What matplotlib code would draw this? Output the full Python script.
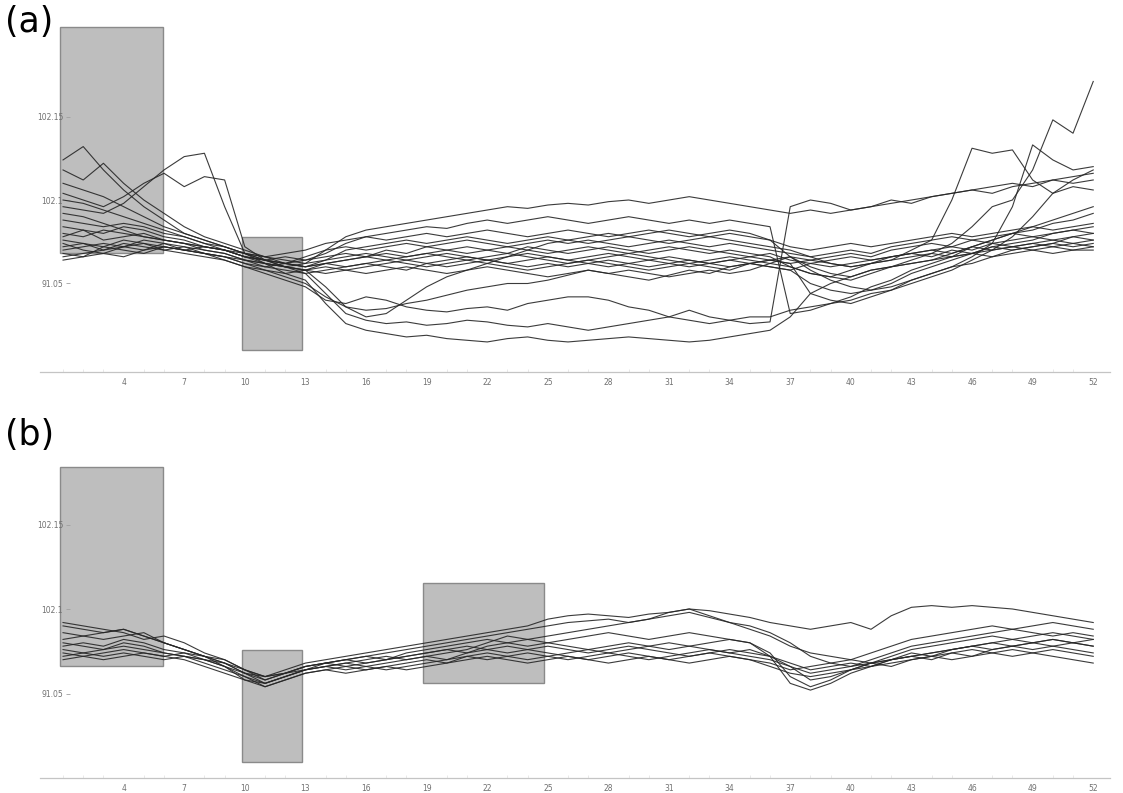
import numpy as np
import matplotlib
matplotlib.use("Agg")
import matplotlib.pyplot as plt
from matplotlib.patches import Rectangle

# ---------------- data ----------------
weeks = list(range(1, 53))
xtick_vals = list(range(4, 53, 3))
ytick_vals = [102.15, 102.1, 102.05]
ytick_labels = ["102.15", "102.1", "91.05"]
BASE = 102.0  # series below are in thousandths above BASE

# panel (a) series
a_A01 = [124,132,118,106,96,88,80,76,72,68,64,66,64, 66,68,66,70,68,72,70,72,70,68,72,70,68, 70,72,70,68,70,72,70,68,66,64,62,64,66, 68,66,70,72,74,72,76,74,76,78,76,78,76]
a_A02 = [118,112,122,110,100,92,84,78,74,70,66,62,60, 62,64,66,64,66,68,66,64,66,68,66,64,62, 64,66,68,66,64,62,64,66,64,62,60,56,54, 58,62,66,68,70,72,70,74,72,74,76,74,72]
a_U1  = [96,94,92,98,108,118,126,128,96,68,62,56,52, 38,26,22,20,18,19,17,16,15,17,18,16,15, 16,17,18,17,16,15,16,18,20,22,30,44,50, 54,58,60,62,64,68,72,76,80,84,88,92,96]
a_U2  = [104,100,96,102,110,116,108,114,112,72,64,60,56, 44,32,28,26,27,25,26,28,27,25,24,26,24, 22,24,26,28,30,34,30,28,26,27,96,100,98, 94,96,100,98,102,104,106,108,110,108,112,114,116]
a_L3  = [80,78,82,80,78,76,74,72,70,66,62,60,58, 48,36,30,32,40,48,54,58,62,66,70,74,76, 78,80,78,80,82,80,78,80,78,76,66,58,52, 48,46,50,56,60,64,68,72,74,76,80,82,84]
a_L4  = [76,74,72,76,74,72,70,68,66,62,58,54,50, 42,36,34,35,38,40,43,46,48,50,50,52,55, 58,56,54,52,55,58,56,60,62,64,62,44,40, 38,42,46,52,56,60,62,66,70,72,74,78,80]
a_L5  = [72,74,70,72,74,70,68,66,64,60,56,52,48, 40,38,42,40,36,34,33,35,36,34,38,40,42, 42,40,36,34,30,28,26,28,30,30,34,36,38, 40,44,46,50,54,58,64,70,78,90,104,112,118]
a_UP1 = [88,86,84,86,84,80,78,74,72,68,66,64,62, 70,78,82,84,86,88,90,92,94,96,95,97,98, 97,99,100,98,100,102,100,98,96,94,92,94,92, 94,96,98,100,102,104,106,104,108,110,112,110,112]
a_UP2 = [84,82,80,84,82,78,76,72,70,66,64,62,64, 68,74,78,80,82,84,83,86,88,86,88,90,88, 86,88,90,88,86,88,86,88,86,84,32,34,38, 42,48,52,58,62,66,72,76,80,82,86,88,92]
a_B1  = [70,72,74,72,76,74,72,70,68,64,62,60,62, 64,66,68,66,64,66,68,66,64,62,64,66,64, 62,60,62,64,62,60,62,64,66,68,64,62,60, 62,64,66,68,66,70,68,72,70,72,74,72,74]
a_B2  = [66,68,70,74,72,70,72,68,66,62,60,62,60, 62,60,62,64,62,60,62,64,62,60,58,60,62, 64,62,60,58,60,62,60,58,62,64,66,64,62, 60,62,64,66,68,66,68,70,72,70,68,70,72]
a_B3  = [74,70,68,72,70,74,70,72,70,66,64,62,66, 70,72,70,72,74,72,74,76,74,72,74,76,74, 76,74,72,74,76,74,72,74,72,70,68,66,68, 70,68,72,74,76,78,76,78,80,78,80,82,80]
a_B4  = [68,66,72,70,68,72,70,68,64,60,58,56,58, 60,58,56,58,60,58,56,58,60,58,56,54,56, 58,56,58,56,54,56,58,56,58,62,66,60,56, 54,58,60,62,64,66,68,66,68,70,72,70,70]
a_B5  = [78,82,76,78,80,76,74,72,70,68,66,68,70, 74,76,78,76,78,80,78,80,82,80,78,80,82, 80,78,80,82,80,78,80,82,80,76,72,70,72, 74,72,74,76,78,80,78,80,82,84,82,84,86]
a_B6  = [64,66,68,66,70,72,70,68,66,64,60,58,56, 58,60,62,60,58,62,60,62,64,62,60,62,60, 62,64,62,60,62,64,62,60,62,60,58,62,64, 66,64,66,68,70,68,72,70,72,74,72,74,76]
a_E1  = [92,90,86,82,78,76,74,70,68,64,62,60,58, 62,64,66,68,66,68,70,68,70,72,70,68,70, 72,70,68,70,72,70,68,70,68,66,60,56,54, 52,56,60,64,68,74,84,96,100,118,148,140,171]
a_E2  = [100,98,94,90,86,82,78,74,70,66,64,62,60, 64,70,72,74,76,74,76,78,76,74,76,78,76, 74,76,78,76,74,76,78,76,74,72,70,66,62, 60,62,64,70,76,100,131,128,130,112,104,108,106]
a_E3  = [110,106,102,96,90,84,80,76,72,68,64,60,58, 56,58,60,62,64,62,64,66,64,66,68,66,64, 66,68,66,64,66,64,62,64,62,60,58,50,46, 44,46,48,52,56,60,66,74,96,133,124,118,120]

# panel (b) series
b_P1 = [90,88,86,88,84,80,76,72,68,62,60,64,68, 70,72,74,76,78,80,82,84,86,88,90,94,96, 97,96,95,97,98,100,99,97,95,92,90,88,90, 92,88,96,101,102,101,102,101,100,98,96,94,92]
b_P2 = [92,90,88,86,82,84,80,74,70,64,58,62,66, 68,70,72,74,76,78,80,82,84,86,88,90,92, 93,94,92,94,96,98,95,92,88,84,78,74,72, 70,74,78,82,84,86,88,90,88,90,92,90,88]
b_P3 = [82,84,86,88,84,80,76,72,68,62,56,60,64, 66,64,66,68,70,72,74,76,80,84,82,80,82, 84,86,84,82,84,86,84,82,80,74,60,54,58, 64,68,72,76,78,80,82,84,82,84,86,84,82]
b_P4 = [78,80,78,82,80,76,74,72,66,58,54,58,62, 64,66,64,66,68,70,68,72,74,72,70,72,74, 76,78,80,78,76,78,80,82,80,72,56,52,56, 62,66,70,72,74,76,78,76,78,80,82,80,78]
b_P5 = [76,74,76,78,76,74,72,70,66,60,56,60,64, 66,68,66,64,66,68,70,72,70,72,74,72,70, 72,74,72,70,72,74,76,74,72,70,66,62,64, 66,68,70,72,70,74,76,74,72,74,76,74,72]
b_P6 = [74,72,74,76,74,72,74,70,66,62,58,62,66, 68,70,68,70,72,74,76,78,76,74,76,78,76, 74,76,78,76,74,72,74,76,74,72,68,64,66, 68,66,70,74,72,76,78,80,78,80,78,80,82]
b_P7 = [72,74,72,74,72,70,72,68,64,60,54,58,62, 64,62,64,66,64,66,68,70,72,70,68,70,72, 70,68,70,72,70,68,70,72,70,66,62,60,62, 64,66,68,70,72,70,72,74,76,74,72,70,68]
b_P8 = [86,84,82,84,86,80,76,72,70,64,60,62,64, 68,70,72,70,74,76,78,80,82,80,82,84,86, 88,90,92,94,98,100,96,92,90,86,80,72,68, 66,70,74,78,80,82,84,86,88,86,84,86,84]
b_P9 = [70,72,70,72,74,72,70,66,62,58,56,60,64, 66,68,70,72,70,72,70,74,76,78,76,74,72, 70,72,74,72,70,72,74,72,70,68,64,66,68, 70,68,66,70,72,74,72,76,78,76,78,76,74]
b_P10 = [80,78,76,80,78,74,72,70,68,64,60,62,66, 68,66,68,70,72,74,76,74,78,80,78,80,78, 76,74,76,78,80,78,76,74,76,72,66,58,60, 64,68,70,72,74,76,78,80,82,80,82,80,78]

series_a = [a_A01, a_A02, a_U1, a_U2, a_L3, a_L4, a_L5, a_UP1, a_UP2,
            a_B1, a_B2, a_B3, a_B4, a_B5, a_B6, a_E1, a_E2, a_E3]
series_b = [b_P1, b_P2, b_P3, b_P4, b_P5, b_P6, b_P7, b_P8, b_P9, b_P10]

# highlighted windows: (x_start, x_end, y_low, y_high)
rects_a = [(0.85, 5.95, 102.0683, 102.2036), (9.86, 12.83, 102.0102, 102.0778)]
rects_b = [(0.85, 5.95, 102.0663, 102.1840), (9.86, 12.83, 102.0095, 102.0757),
           (18.82, 24.81, 102.0562, 102.1154)]

# ---------------- plotting ----------------
W, H = 1123, 793
fig = plt.figure(figsize=(W / 100, H / 100), dpi=100)
fig.patch.set_facecolor("white")

XLIM = (-0.14, 52.83)

def make_axes(top_px, bottom_px, ylim, series, rects):
    ax = fig.add_axes([40 / W, 1 - bottom_px / H, 1070 / W, (bottom_px - top_px) / H])
    ax.set_xlim(*XLIM)
    ax.set_ylim(*ylim)
    ax.set_facecolor("none")
    for (x0, x1, y0, y1) in rects:
        ax.add_patch(Rectangle((x0, y0), x1 - x0, y1 - y0, facecolor="#bebebe",
                               edgecolor="#8a8a8a", linewidth=1.0, zorder=1))
    for s in series:
        vals = BASE + np.array(s) / 1000.0
        ax.plot(weeks, vals, color="#262626", linewidth=0.8, alpha=0.9, zorder=2)
    for side in ("top", "right"):
        ax.spines[side].set_visible(False)
    ax.spines["left"].set_position(("data", 1.35))
    ax.spines["left"].set_visible(False)
    ax.spines["bottom"].set_color("#c4c4c4")
    ax.spines["bottom"].set_linewidth(0.9)
    ax.set_xticks(xtick_vals)
    ax.set_xticklabels([str(v) for v in xtick_vals])
    ax.set_xticks(weeks, minor=True)
    ax.tick_params(axis="x", which="major", length=0, pad=4, labelsize=5.5, labelcolor="#707070")
    ax.tick_params(axis="x", which="minor", direction="in", length=2, width=0.5, color="#e0e0e0")
    ax.set_yticks(ytick_vals)
    ax.set_yticklabels(ytick_labels)
    ax.tick_params(axis="y", length=3, width=0.6, color="#a0a0a0", pad=2,
                   labelsize=5.5, labelcolor="#707070")
    return ax

ax_a = make_axes(20, 372, (101.997, 102.2078), series_a, rects_a)
ax_b = make_axes(440, 778, (102.0, 102.2), series_b, rects_b)

fig.text(5 / W, 1 - 5 / H, "(a)", fontsize=25, va="top", ha="left",
         family=["Liberation Sans Narrow", "DejaVu Sans"], color="black")
fig.text(5 / W, 1 - 418 / H, "(b)", fontsize=25, va="top", ha="left",
         family=["Liberation Sans Narrow", "DejaVu Sans"], color="black")

fig.savefig("out.png", dpi=100, facecolor="white")
